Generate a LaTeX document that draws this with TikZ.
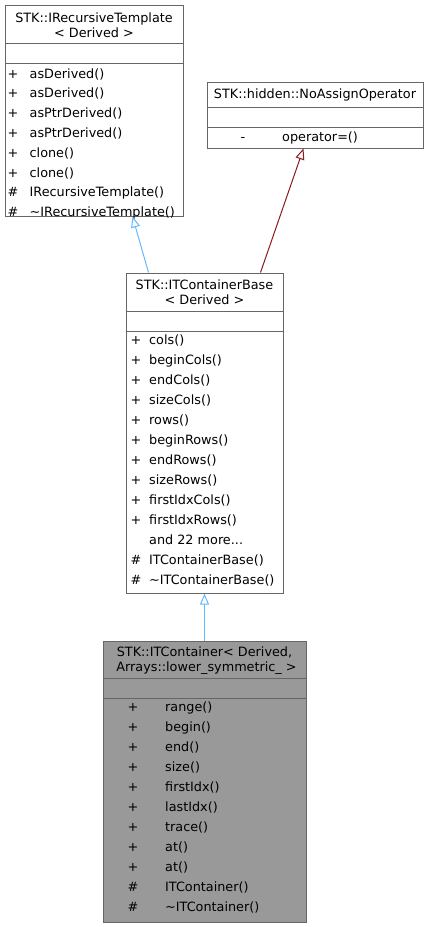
\documentclass[tikz,border=0pt]{standalone}
\usepackage{fontspec}
\setmainfont{DejaVu Sans}
\usetikzlibrary{arrows.meta}
\definecolor{boxline}{HTML}{666666}
\definecolor{boxgray}{HTML}{999999}
\definecolor{inherit}{HTML}{63B8FF}
\definecolor{usage}{HTML}{8B1A1A}
\newcommand\moredots{...}
\tikzset{
  classbox/.style={draw=boxline,line width=1pt,fill=white,inner sep=0pt},
  sep/.style={draw=boxline,line width=1pt},
  title/.style={align=center,inner sep=0pt,font=\fontsize{12.8}{14.5}\selectfont},
  vis/.style={inner sep=0pt,text height=10pt,text depth=1pt},
  member/.style={anchor=west,inner sep=0pt,text height=10pt,text depth=1pt},
  parent/.style={line width=1pt,-{Triangle[open,length=11pt,width=9pt]}}
}

\begin{document}
\begin{tikzpicture}[x=1pt,y=-1pt,font=\fontsize{12.8}{15}\selectfont]
\useasboundingbox (0,0) rectangle (429,927);

% STK::IRecursiveTemplate
\node[classbox,minimum width=178pt,minimum height=211pt] (irt) at (94,110.5) {};
\draw[sep] (5,43) -- (183,43);
\draw[sep] (5,63) -- (183,63);
\node[title] (irtname) at (94,25) {STK::IRecursiveTemplate\\< Derived >};
\foreach \v/\m [count=\i from 0] in {+/asDerived(),+/asDerived(),+/asPtrDerived(),+/asPtrDerived(),
    +/clone(),+/clone(),\#/IRecursiveTemplate(),\#/\textasciitilde IRecursiveTemplate()}{
  \node[vis] at (13,73.5+19.8*\i) {\v};
  \node[member] at (29.5,73.5+19.8*\i) {\m};
}

% STK::hidden::NoAssignOperator
\node[classbox,minimum width=216pt,minimum height=66pt] (nao) at (315,115) {};
\draw[sep] (207,107) -- (423,107);
\draw[sep] (207,127) -- (423,127);
\node[title] (naoname) at (315,94.5) {STK::hidden::NoAssignOperator};
\node[vis] at (243,137) {-};
\node[member] at (282,137) {operator=()};

% STK::ITContainerBase
\node[classbox,minimum width=157pt,minimum height=320pt] (base) at (204.5,433) {};
\draw[sep] (126,311) -- (283,311);
\draw[sep] (126,331) -- (283,331);
\node[title] (basename) at (204.5,292) {STK::ITContainerBase\\< Derived >};
\foreach \v/\m [count=\i from 0] in {+/cols(),+/beginCols(),+/endCols(),+/sizeCols(),+/rows(),
    +/beginRows(),+/endRows(),+/sizeRows(),+/firstIdxCols(),+/firstIdxRows(),{}/and 22 more\moredots,
    \#/ITContainerBase(),\#/\textasciitilde ITContainerBase()}{
  \node[vis] at (136,340+20*\i) {\v};
  \node[member] at (149,340+20*\i) {\m};
}

% STK::ITContainer
\node[classbox,fill=boxgray,minimum width=203pt,minimum height=281pt] (cont) at (204.5,781.5) {};
\draw[sep] (103,678) -- (306,678);
\draw[sep] (103,698) -- (306,698);
\node[title] (contname) at (204.5,660.5) {STK::ITContainer< Derived,\\\ Arrays::lower\_symmetric\_ >};
\foreach \v/\m [count=\i from 0] in {+/range(),+/begin(),+/end(),+/size(),+/firstIdx(),+/lastIdx(),
    +/trace(),+/at(),+/at(),\#/ITContainer(),\#/\textasciitilde ITContainer()}{
  \node[vis] at (133,707+20*\i) {\v};
  \node[member] at (165,707+20*\i) {\m};
}

% inheritance
\draw[parent,inherit] ([xshift=23pt]base.north west) -- ([xshift=128pt]irt.south west);
\draw[parent,usage] ([xshift=135pt]base.north west) -- ([xshift=97pt]nao.south west);
\draw[parent,inherit] (cont.north) -- (base.south);
\end{tikzpicture}
\end{document}
